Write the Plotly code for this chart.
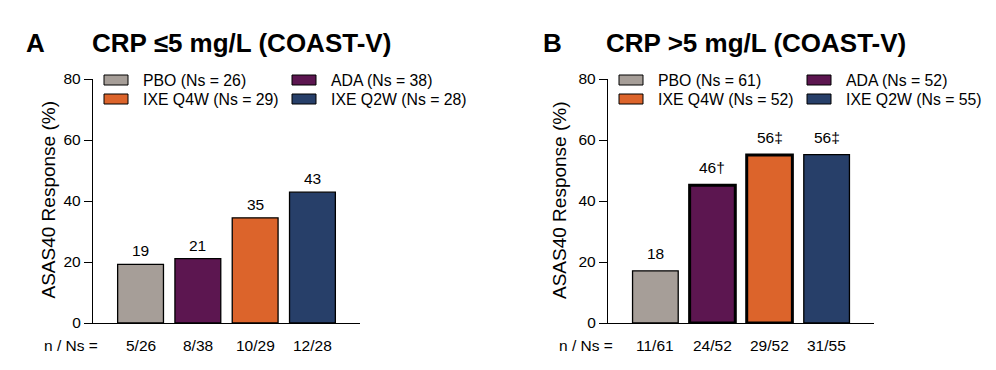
import plotly.graph_objects as go

# ---------------- data ----------------
groups = ["PBO", "ADA", "IXE Q4W", "IXE Q2W"]
colors = ["#A69E98", "#5C1650", "#DC642B", "#273F69"]

resp_a = [19.2, 21.1, 34.5, 42.9]
labels_a = ["19", "21", "35", "43"]
nns_a = ["5/26", "8/38", "10/29", "12/28"]
ns_a = [26, 38, 29, 28]

resp_b = [17.1, 45.2, 55.1, 55.2]
labels_b = ["18", "46\u2020", "56\u2021", "56\u2021"]
nns_b = ["11/61", "24/52", "29/52", "31/55"]
ns_b = [61, 52, 52, 55]

edge_a = [1.3, 1.3, 1.3, 1.3]
edge_b = [1.3, 3.0, 3.0, 1.3]

yticks = [0, 20, 40, 60, 80]

# ---------------- layout helpers ----------------
W, H = 996, 370
OFF = 8  # page body margin
FONT = "Arial, Liberation Sans, sans-serif"
FS = 15.5


def px(x):
    return (x - OFF) / W


def py(y):
    return (H - (y - OFF)) / H


axis_left = {"a": 93, "b": 608}
axis_right = {"a": 360, "b": 874}
y0_px, y80_px = 323, 79

fig = go.Figure()

panels = [
    ("a", "x", "y", resp_a, labels_a, nns_a, ns_a, edge_a, "A", "CRP \u22645 mg/L (COAST-V)", 24, 90, 47.5, 3),
    ("b", "x2", "y2", resp_b, labels_b, nns_b, ns_b, edge_b, "B", "CRP >5 mg/L (COAST-V)", 541, 604, 559, 7),
]

annotations = []
shapes = []

for key, xa, ya, resp, labs, nns, ns, edges, letter, title, letter_x, title_x, ytitle_x, lshift in panels:
    fig.add_trace(go.Bar(
        x=groups, y=resp, xaxis=xa, yaxis=ya,
        marker=dict(color=colors, line=dict(color="black", width=edges)),
        showlegend=False, hoverinfo="skip",
    ))
    xref = xa
    yref = ya
    # value labels
    for g, v, t in zip(groups, resp, labs):
        annotations.append(dict(x=g, y=v, xref=xref, yref=yref, text=t, showarrow=False,
                                yanchor="bottom", xanchor="center", yshift=lshift,
                                font=dict(family=FONT, size=FS, color="black")))
    # n / Ns row
    for g, t in zip(groups, nns):
        annotations.append(dict(x=g, y=0, xref=xref, yref=yref, text=t, showarrow=False,
                                yanchor="middle", xanchor="center", yshift=-22,
                                font=dict(family=FONT, size=FS, color="black")))
    left = axis_left[key]
    annotations.append(dict(x=px(left - 22.5), y=0, xref="paper", yref=yref, text="n / Ns =",
                            showarrow=False, xanchor="center", yanchor="middle", yshift=-22,
                            font=dict(family=FONT, size=FS, color="black")))
    # panel letter and title
    annotations.append(dict(x=px(letter_x), y=py(43), xref="paper", yref="paper", text="<b>%s</b>" % letter,
                            showarrow=False, xanchor="left", yanchor="middle",
                            font=dict(family=FONT, size=26, color="black")))
    annotations.append(dict(x=px(title_x), y=py(43), xref="paper", yref="paper", text="<b>%s</b>" % title,
                            showarrow=False, xanchor="left", yanchor="middle",
                            font=dict(family=FONT, size=26, color="black")))
    # y-axis title
    annotations.append(dict(x=px(ytitle_x), y=py(200), xref="paper", yref="paper",
                            text="ASAS40 Response (%)", textangle=-90, showarrow=False,
                            xanchor="center", yanchor="middle",
                            font=dict(family=FONT, size=19, color="black")))
    # legend (2 x 2)
    rows = [0, 0, 1, 1]
    cols = [0, 1, 0, 1]
    for g, c, n, r, cc in zip(groups, colors, ns, rows, cols):
        yc = 80 + 19 * r
        sx = left + 11 + 188 * cc
        shapes.append(dict(type="rect", xref="paper", yref="paper",
                           x0=px(sx), x1=px(sx + 24), y0=py(yc + 5), y1=py(yc - 5),
                           fillcolor=c, line=dict(color="black", width=1)))
        annotations.append(dict(x=px(sx + 37), y=py(yc), xref="paper", yref="paper",
                                text="%s (Ns = %d)" % (g, n), showarrow=False,
                                xanchor="left", yanchor="middle",
                                font=dict(family=FONT, size=15.8, color="black")))

xcommon = dict(range=[-0.83, 3.83], showline=True, linecolor="black", linewidth=1.3,
               ticks="", showticklabels=False, showgrid=False, zeroline=False, fixedrange=True,
               automargin=False)
ycommon = dict(range=[0, 80], tickvals=yticks, showline=True, linecolor="black", linewidth=1.3,
               ticks="outside", ticklen=8, tickwidth=1.3, tickcolor="black",
               tickfont=dict(family=FONT, size=FS, color="black"),
               showgrid=False, zeroline=False, fixedrange=True, automargin=False)

fig.update_layout(
    template="none",
    width=W, height=H,
    margin=dict(l=0, r=0, t=0, b=0, pad=0),
    paper_bgcolor="white", plot_bgcolor="white",
    bargap=0.2,
    xaxis=dict(domain=[px(axis_left["a"]), px(axis_right["a"])], anchor="y", **xcommon),
    yaxis=dict(domain=[py(y0_px), py(y80_px)], anchor="x", **ycommon),
    xaxis2=dict(domain=[px(axis_left["b"]), px(axis_right["b"])], anchor="y2", **xcommon),
    yaxis2=dict(domain=[py(y0_px), py(y80_px)], anchor="x2", **ycommon),
    annotations=annotations,
    shapes=shapes,
    showlegend=False,
)

fig.write_html("out.html")
